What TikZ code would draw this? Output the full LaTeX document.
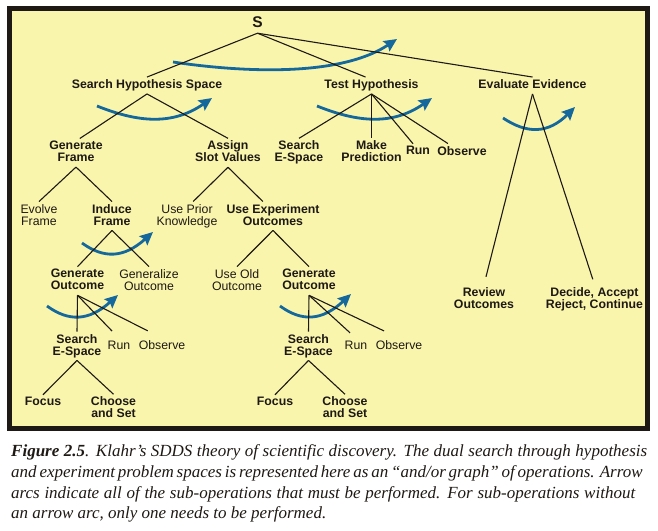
\documentclass[tikz,border=0pt]{standalone}
\usepackage{fontspec}
\setmainfont{Liberation Sans}
\newfontfamily\capfont{Liberation Serif}
\usetikzlibrary{arrows.meta,calc}
\definecolor{bgyellow}{RGB}{250,245,172}
\definecolor{arcblue}{RGB}{20,104,156}
\definecolor{ink}{RGB}{30,25,20}
\begin{document}
\begin{tikzpicture}[x=1pt,y=-1pt,
  lbl/.style={inner sep=2.5pt, text depth=2.6pt, align=center, font=\fontsize{12.3}{12}\selectfont\bfseries, text=ink},
  rlbl/.style={lbl, font=\fontsize{12.3}{12}\selectfont},
  edge/.style={draw=ink, line width=1.1pt},
  andarc/.style={draw=arcblue, line width=2.8pt, -{Stealth[length=13pt,width=12pt,inset=2pt]}},
  capline/.style={anchor=base west, inner sep=0pt, text=ink, font=\capfont\itshape\fontsize{17}{20}\selectfont}]
\useasboundingbox (0,0) rectangle (658,530);
% frame
\draw[line width=4.6pt, draw=ink, fill=bgyellow] (9.3,8.3) rectangle (647.7,428.7);
% nodes
\node[lbl, font=\fontsize{15.5}{16}\selectfont\bfseries] (S) at (257.5,23.8) {S};
\node[lbl] (shs) at (147,85.5) {Search Hypothesis Space};
\node[lbl] (th) at (371.5,85.5) {Test Hypothesis};
\node[lbl] (ee) at (532.5,85.5) {Evaluate Evidence};
\node[lbl] (gf) at (76,152.8) {Generate\\Frame};
\node[lbl] (asv) at (228,152.8) {Assign\\Slot Values};
\node[lbl] (sest) at (299,152.8) {Search\\E-Space};
\node[lbl] (mp) at (371.5,152.8) {Make\\Prediction};
\node[lbl] (runt) at (418,152) {Run};
\node[lbl] (obst) at (462,152) {Observe};
\node[rlbl] (ef) at (39,216) {Evolve\\Frame};
\node[lbl] (ifr) at (112,216) {Induce\\Frame};
\node[rlbl] (upk) at (187,216) {Use Prior\\Knowledge};
\node[lbl] (ueo) at (273,216) {Use Experiment\\Outcomes};
\node[lbl] (go1) at (77.5,281) {Generate\\Outcome};
\node[rlbl] (geno) at (149,281) {Generalize\\Outcome};
\node[rlbl] (uoo) at (237,281) {Use Old\\Outcome};
\node[lbl] (go2) at (309,281) {Generate\\Outcome};
\node[lbl] (ses1) at (77,346) {Search\\E-Space};
\node[rlbl] (run1) at (119,346.5) {Run};
\node[rlbl] (obs1) at (162,346.5) {Observe};
\node[lbl] (ses2) at (308.5,346) {Search\\E-Space};
\node[rlbl] (run2) at (356,346.5) {Run};
\node[rlbl] (obs2) at (399,346.5) {Observe};
\node[lbl] (foc1) at (43,403) {Focus};
\node[lbl] (cas1) at (113.5,408.7) {Choose\\and Set};
\node[lbl] (foc2) at (275,403) {Focus};
\node[lbl] (cas2) at (345,408.7) {Choose\\and Set};
\node[lbl] (ro) at (484,299) {Review\\Outcomes};
\node[lbl] (dar) at (594.5,299) {Decide, Accept\\Reject, Continue};
% and-arcs
\draw[andarc] (173,62) .. controls (233,71) and (337,79) .. (397,39);
\draw[andarc] (97,106) .. controls (137,122) and (172,126) .. (212,98);
\draw[andarc] (317,106) .. controls (357,122) and (392,126) .. (432,98);
\draw[andarc] (503,118) .. controls (527,134) and (548,134) .. (575,107);
\draw[andarc] (82,243) .. controls (104,259) and (124,258) .. (153,232);
\draw[andarc] (47,306) .. controls (69,322) and (89,321) .. (118,295);
\draw[andarc] (280,306) .. controls (302,322) and (322,321) .. (351,294);
% edges
\draw[edge] (S.south) -- (shs.north);
\draw[edge] (S.south) -- ([xshift=-6pt]th.north);
\draw[edge] (S.south) -- (ee.north);
\draw[edge] (shs.south) -- (gf.75);
\draw[edge] (shs.south) -- (asv.north);
\draw[edge] (th.south) -- (sest.north);
\draw[edge] (th.south) -- (mp.north);
\draw[edge] (th.south) -- (runt.121);
\draw[edge] (th.south) -- (obst.149);
\draw[edge,shorten >=8pt] (ee.south) -- (ro.north);
\draw[edge,shorten >=5.5pt] (ee.south) -- (dar.north);
\draw[edge] (gf.south) -- (ef.north);
\draw[edge] (gf.south) -- (ifr.north);
\draw[edge] (asv.south) -- (upk.67);
\draw[edge] (asv.south) -- (ueo.125);
\draw[edge] (ifr.south) -- (go1.north);
\draw[edge] (ifr.south) -- (geno.north);
\draw[edge] (ueo.south) -- (uoo.north);
\draw[edge] (ueo.south) -- (go2.north);
\draw[edge] (go1.south) -- (ses1.north);
\draw[edge,shorten >=10pt] (go1.south) -- (run1.north);
\draw[edge,shorten >=16pt] (go1.south) -- (obs1.north);
\draw[edge] (go2.south) -- (ses2.north);
\draw[edge,shorten >=8pt] (go2.south) -- (run2.north);
\draw[edge,shorten >=16.5pt] (go2.south) -- (obs2.north);
\draw[edge] (ses1.south) -- (foc1.north);
\draw[edge] (ses1.south) -- (cas1.north);
\draw[edge] (ses2.south) -- (foc2.north);
\draw[edge] (ses2.south) -- (cas2.north);
% caption
\node[capline] (cap1) at (11,456) {\makebox[636pt][s]{\textbf{Figure 2.5}. Klahr’s SDDS theory of scientific discovery. The dual search through hypothesis}};
\node[capline] (cap2) at (11,477) {\makebox[629pt][s]{and experiment problem spaces is represented here as an “and/or graph” of operations. Arrow}};
\node[capline] (cap3) at (11,498) {\makebox[624pt][s]{arcs indicate all of the sub-operations that must be performed. For sub-operations without}};
\node[capline] (cap4) at (11,518) {an arrow arc, only one needs to be performed.};
\end{tikzpicture}
\end{document}
